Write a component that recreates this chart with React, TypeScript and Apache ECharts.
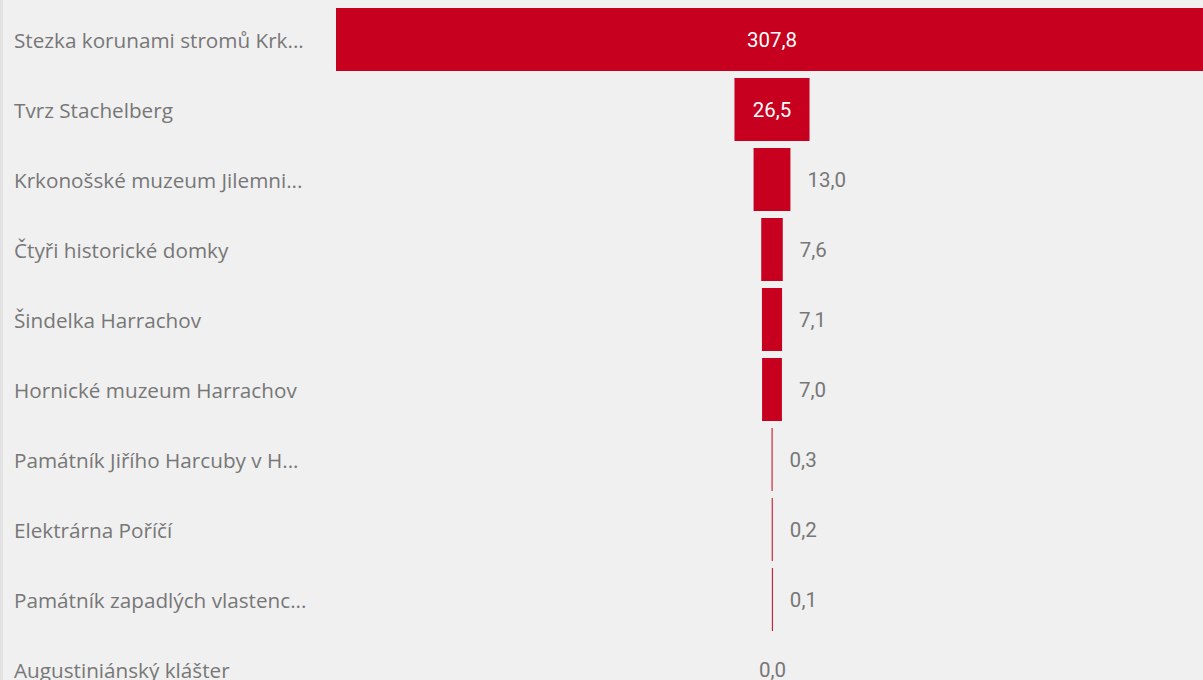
import React, { useEffect, useRef } from "react";
import * as echarts from "echarts";

const categories = [
  "Stezka korunami stromů Krk...",
  "Tvrz Stachelberg",
  "Krkonošské muzeum Jilemni...",
  "Čtyři historické domky",
  "Šindelka Harrachov",
  "Hornické muzeum Harrachov",
  "Památník Jiřího Harcuby v H...",
  "Elektrárna Poříčí",
  "Památník zapadlých vlastenc...",
  "Augustiniánský klášter",
];
const values = [307.8, 26.5, 13.0, 7.6, 7.1, 7.0, 0.3, 0.2, 0.1, 0.0];
const insideCount = 2;

const RED = "#c6001e";
const GRAY = "#777777";

export default function App() {
  const ref = useRef<HTMLDivElement>(null);
  useEffect(() => {
    const chart = echarts.init(ref.current!, undefined, { renderer: "svg" });
    const maxV = Math.max(...values);
    const fmt = (v: number) => v.toFixed(1).replace(".", ",");
    chart.setOption({
      animation: false,
      backgroundColor: "#f0f0f0",
      graphic: [
        {
          type: "rect",
          left: 0,
          top: 0,
          shape: { width: 3, height: 712 },
          style: { fill: "#e2e2e2" },
          silent: true,
        },
      ],
      grid: { left: 336, top: 4.5, width: 872, height: 700 },
      xAxis: {
        type: "value",
        min: 0,
        max: maxV,
        show: false,
      },
      yAxis: {
        type: "category",
        inverse: true,
        data: categories,
        axisLine: { show: false },
        axisTick: { show: false },
        splitLine: { show: false },
        axisLabel: {
          align: "left",
          margin: 322,
          color: GRAY,
          fontFamily: "Open Sans",
          fontSize: 20.7,
        },
      },
      series: [
        {
          type: "bar",
          stack: "funnel",
          barWidth: 63,
          silent: true,
          itemStyle: { color: "transparent" },
          data: values.map((v) => (maxV - v) / 2),
        },
        {
          type: "bar",
          stack: "funnel",
          barWidth: 63,
          barMinHeight: 1,
          data: values.map((v, i) => {
            const inside = i < insideCount;
            const zero = v === 0;
            return {
              value: v,
              itemStyle: { color: zero ? "transparent" : RED },
              label: {
                show: true,
                position: inside || zero ? "inside" : "right",
                distance: 17,
                color: inside ? "#ffffff" : GRAY,
                fontFamily: "Roboto",
                fontSize: 20.5,
                formatter: () => fmt(v),
              },
            };
          }),
        },
      ],
    });
    return () => chart.dispose();
  }, []);
  return (
    <div
      style={{
        position: "fixed",
        left: 0,
        top: 0,
        width: 1203,
        height: 680,
        overflow: "hidden",
        background: "#f0f0f0",
      }}
    >
      <div ref={ref} style={{ width: 1210, height: 712 }} />
    </div>
  );
}
